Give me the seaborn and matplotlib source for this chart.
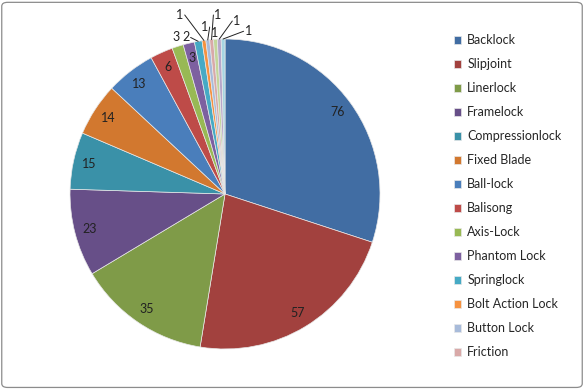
import numpy as np
import seaborn as sns
import matplotlib.pyplot as plt
from matplotlib.patches import FancyBboxPatch

sns.set_theme(style="white")
plt.rcParams['font.family'] = ['Lato', 'DejaVu Sans']

# data (last three slices have no legend entry in the original)
categories = ['Backlock', 'Slipjoint', 'Linerlock', 'Framelock', 'Compressionlock',
              'Fixed Blade', 'Ball-lock', 'Balisong', 'Axis-Lock', 'Phantom Lock',
              'Springlock', 'Bolt Action Lock', 'Button Lock', 'Friction',
              '', '', '']
counts = [76, 57, 35, 23, 15, 14, 13, 6, 3, 3, 2, 1, 1, 1, 1, 1, 1]
n_legend = 14

colors = ['#416DA3', '#A2413E', '#7F9B48', '#674F88', '#3A91A8', '#D2782F',
          '#4A7EBB', '#BE4B48', '#98B954', '#7D60A0', '#46AAC5', '#F69240',
          '#A8BBDA', '#D9A9A8', '#C3D69B', '#B6A6CA', '#A5D5E2']

# outside labels for the thin slices: index -> (text x, text y, leader?)
outside = {
    8: (-0.316, 1.01, False),
    10: (-0.252, 1.01, True),
    11: (-0.29, 1.155, True),
    12: (-0.129, 1.077, True),
    13: (-0.045, 1.155, True),
    14: (-0.065, 1.039, False),
    15: (0.077, 1.116, True),
    16: (0.150, 1.05, True),
}

fig = plt.figure(figsize=(5.84, 3.89), dpi=100)
fig.patch.set_facecolor('white')
ax = fig.add_axes([0.1199, 0.1028, 0.5308, 0.797])

wedges, _ = ax.pie(counts, colors=colors, startangle=90, counterclock=False,
                   radius=1, wedgeprops=dict(edgecolor='#e8e8e8', linewidth=0.5))
ax.set_xlim(-1, 1)
ax.set_ylim(-1, 1)
ax.set_aspect('equal')
ax.axis('off')

for i, (w, v) in enumerate(zip(wedges, counts)):
    mid = np.deg2rad((w.theta1 + w.theta2) / 2)
    if i in outside:
        tx, ty, lead = outside[i]
        ax.text(tx, ty, str(v), ha='center', va='center', fontsize=9,
                color='#222222', clip_on=False)
        if lead:
            ex, ey = np.cos(mid), np.sin(mid)
            sx = tx + (0.03 if tx < ex else -0.03)
            ax.plot([sx, ex], [ty, ey], color='#222222', lw=0.7, clip_on=False)
    else:
        ax.text(0.9 * np.cos(mid), 0.9 * np.sin(mid), str(v), ha='center',
                va='center', fontsize=9, color='#222222')

fig.legend(wedges[:n_legend], categories[:n_legend], loc='upper left',
           bbox_to_anchor=(0.768, 0.925), frameon=False, fontsize=9,
           handlelength=0.6, handleheight=0.6, handletextpad=0.5,
           labelspacing=0.96, borderaxespad=0)

fig.patches.append(FancyBboxPatch((0.003, 0.004), 0.994, 0.99,
                                  boxstyle='round,pad=0,rounding_size=0.01',
                                  transform=fig.transFigure, fill=False,
                                  edgecolor='#8c8c8c', linewidth=0.9))

fig.savefig('out.png', dpi=100)
